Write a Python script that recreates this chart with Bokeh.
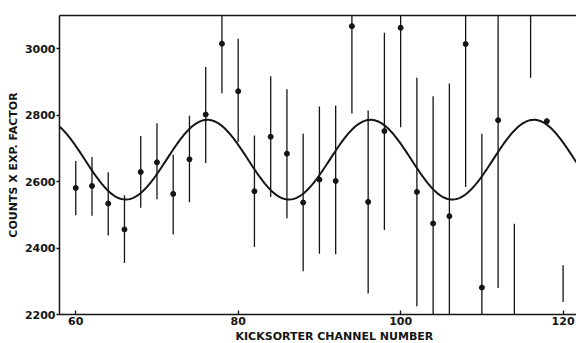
import numpy as np
from bokeh.plotting import figure
from bokeh.models import ColumnDataSource, LinearAxis, FixedTicker, Title
from bokeh.embed import file_html
from bokeh.resources import INLINE

# Kicksorter channels (every second channel)
channels = [60, 62, 64, 66, 68, 70, 72, 74, 76, 78, 80, 82, 84, 86, 88, 90,
            92, 94, 96, 98, 100, 102, 104, 106, 108, 110, 112, 114, 116, 118, 120]
# Counts x exp. factor (nan = point lies outside the drawn frame)
counts = [2581, 2587, 2534, 2456, 2629, 2658, 2563, 2667, 2802, 3015, 2872, 2571,
          2735, 2684, 2537, 2606, 2602, 3068, 2539, 2752, 3063, 2569, 2474, 2496,
          3014, 2281, 2785, float("nan"), float("nan"), 2782, float("nan")]
# Error bar ends
err_low = [2499, 2497, 2438, 2355, 2521, 2547, 2441, 2538, 2656, 2866, 2719, 2403,
           2554, 2490, 2330, 2383, 2381, 2805, 2263, 2454, 2764, 2225, 2091, 2097,
           2584, 1818, 2280, 1900, 2913, float("nan"), 2238]
err_high = [2662, 2674, 2628, 2559, 2737, 2776, 2681, 2798, 2945, 3164, 3030, 2739,
            2917, 2878, 2744, 2826, 2829, 3331, 2814, 3048, 3362, 2913, 2857, 2895,
            3444, 2744, 3290, 2473, 3500, float("nan"), 2348]

# Fitted sinusoid parameters
fit_mean = 2666
fit_amp = 120
fit_period = 20.1
fit_peak = 76.2

x_ticks = [60, 80, 100, 120]
y_ticks = [2200, 2400, 2600, 2800, 3000]

FONT = "DejaVu Sans"
INK = "#151515"

src = ColumnDataSource(dict(x=channels, y=counts, lo=err_low, hi=err_high))

p = figure(width=576, height=343, x_range=(58.0, 121.65), y_range=(2200, 3100),
           output_backend="svg", toolbar_location=None,
           min_border_left=59, min_border_right=0, min_border_top=15,
           min_border_bottom=29, background_fill_color="white",
           border_fill_color="white", x_axis_location=None, y_axis_location=None)
p.outline_line_color = None
p.grid.visible = False

# error bars
p.segment(x0="x", y0="lo", x1="x", y1="hi", source=src, line_color=INK, line_width=1.3)
# points
p.scatter(x="x", y="y", source=src, size=5, fill_color=INK, line_color=INK)

# fitted curve
xc = np.linspace(58.0, 121.65, 400)
yc = fit_mean + fit_amp * np.cos(2 * np.pi * (xc - fit_peak) / fit_period)
p.line(xc, yc, line_color=INK, line_width=2)

# axes
yaxis = LinearAxis(ticker=FixedTicker(ticks=y_ticks), axis_label="COUNTS X EXP. FACTOR")
yaxis.axis_line_width = 1.5
yaxis.axis_line_color = INK
yaxis.major_tick_in = 0
yaxis.major_tick_out = 3
yaxis.major_tick_line_color = INK
yaxis.major_tick_line_width = 1.3
yaxis.minor_tick_line_color = None
yaxis.major_label_text_font = FONT
yaxis.major_label_text_font_style = "bold"
yaxis.major_label_text_font_size = "11px"
yaxis.major_label_text_color = INK
yaxis.major_label_standoff = 1
yaxis.axis_label_text_font = FONT
yaxis.axis_label_text_font_style = "bold"
yaxis.axis_label_text_font_size = "11px"
yaxis.axis_label_text_color = INK
yaxis.axis_label_standoff = 2
p.add_layout(yaxis, "left")

xaxis = LinearAxis(ticker=FixedTicker(ticks=x_ticks))
xaxis.axis_line_width = 1.5
xaxis.axis_line_color = INK
xaxis.major_tick_in = 4
xaxis.major_tick_out = 0
xaxis.major_tick_line_color = INK
xaxis.major_tick_line_width = 1.3
xaxis.minor_tick_line_color = None
xaxis.major_label_text_font = FONT
xaxis.major_label_text_font_style = "bold"
xaxis.major_label_text_font_size = "11px"
xaxis.major_label_text_color = INK
xaxis.major_label_standoff = 2
p.add_layout(xaxis, "below")

xtitle = Title(text="KICKSORTER CHANNEL NUMBER", align="left", offset=176,
               text_font=FONT, text_font_style="bold", text_font_size="11px",
               text_color=INK, standoff=1)
p.add_layout(xtitle, "below")

top = LinearAxis(ticker=FixedTicker(ticks=[]))
top.axis_line_width = 1.5
top.axis_line_color = INK
top.major_tick_line_color = None
top.minor_tick_line_color = None
top.major_label_standoff = 0
p.add_layout(top, "above")

open("out.html", "w").write(file_html(p, INLINE))
